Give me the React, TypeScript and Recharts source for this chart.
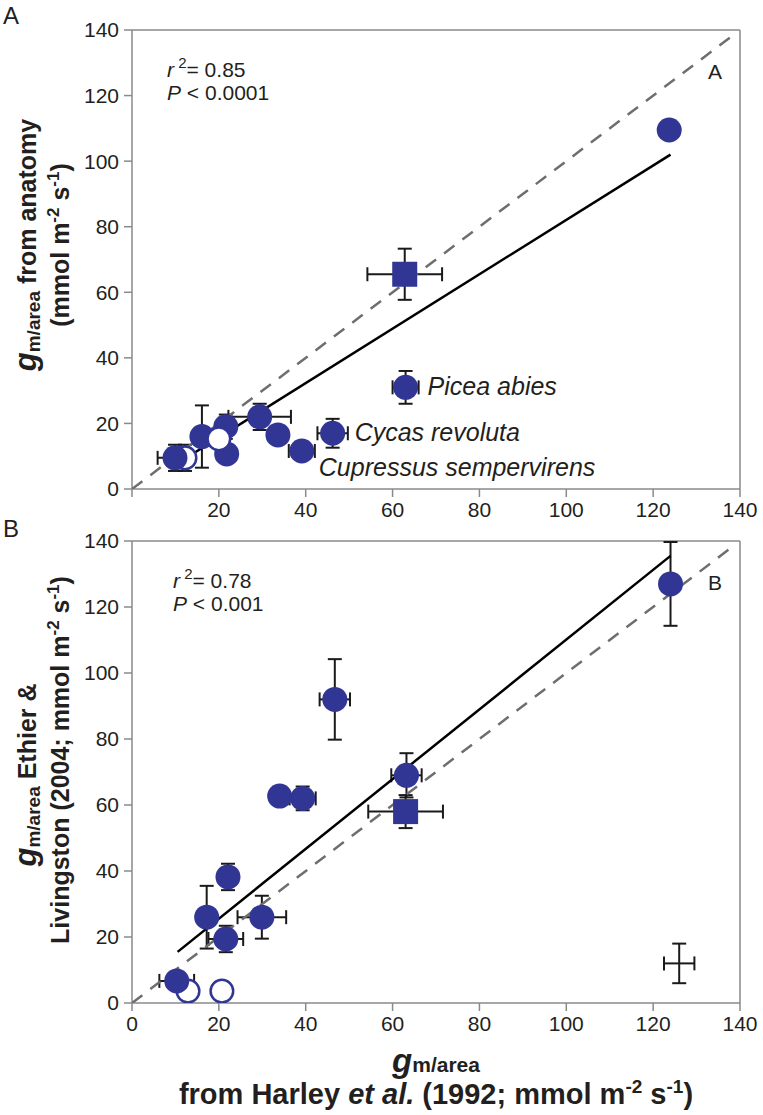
import { ScatterChart, Scatter, XAxis, YAxis, ErrorBar, ReferenceLine, Label } from 'recharts';

const FONT = '"Liberation Sans", Arial, sans-serif';
const BLUE = '#313694';
const INK = '#231f20';
const AXIS = '#8a8a8a';
const TICKS = [0, 20, 40, 60, 80, 100, 120, 140];

// panel A: anatomy vs Harley
const aKind = ['open', 'dot', 'dot', 'dot', 'dot', 'dot', 'dot', 'dot', 'dot', 'dot', 'dot', 'open', 'square'];
const aX = [12.2, 9.9, 16.1, 21.6, 21.8, 29.4, 33.6, 39.1, 46.2, 63.0, 123.7, 20.0, 62.8];
const aY = [9.5, 9.5, 16.0, 19.0, 10.7, 22.0, 16.5, 11.6, 17.0, 31.0, 109.5, 15.3, 65.5];
const aXErr = [0, 4, 0, 2, 0, 7.2, 0, 3, 3.5, 3, 0, 0, 8.6];
const aYErr = [4, 4, 9.5, 3.7, 0, 4, 0, 0, 4.4, 5, 0, 0, 7.8];
const aName = ['', '', '', '', '', '', '', 'Cupressus sempervirens', 'Cycas revoluta', 'Picea abies', '', '', ''];
const aFitX = [9.5, 124];
const aFitY = [7, 102];

// panel B: Ethier & Livingston vs Harley
const bKind = ['open', 'open', 'dot', 'dot', 'dot', 'dot', 'dot', 'dot', 'dot', 'dot', 'dot', 'dot', 'square', 'none'];
const bX = [12.9, 20.7, 10.3, 17.2, 21.6, 22.1, 29.9, 34.0, 39.3, 46.7, 63.2, 124.0, 63.0, 126.0];
const bY = [3.6, 3.6, 6.7, 26.0, 19.4, 38.2, 26.0, 62.7, 62.0, 92.0, 69.0, 127.0, 58.0, 12.0];
const bXErr = [0, 0, 4, 0, 4, 0, 5.6, 0, 3, 3.5, 3.5, 0, 8.6, 3.5];
const bYErr = [0, 0, 0, 9.5, 4, 4, 6.5, 0, 3.6, 12.2, 6.7, 12.7, 5, 6];
const bFitX = [10.5, 124];
const bFitY = [15.5, 135.5];

const oneToOne = [0, 138];

const labelOffset: Record<string, [number, number]> = {
  'Picea abies': [22, 0],
  'Cycas revoluta': [22, 0],
  'Cupressus sempervirens': [17, 17],
};

const rows = (kind: string[], xs: number[], ys: number[], ex: number[], ey: number[], names?: string[]) =>
  xs.map((x, i) => ({ x, y: ys[i], ex: ex[i], ey: ey[i], kind: kind[i], name: names ? names[i] : '' }));

const line = (xs: number[], ys: number[]) => xs.map((x, i) => ({ x, y: ys[i] }));

function Marker(props: any) {
  const { cx, cy, payload } = props;
  if (cx == null || cy == null) return <g />;
  let mark = null;
  if (payload.kind === 'dot') mark = <circle cx={cx} cy={cy} r={12.5} fill={BLUE} />;
  else if (payload.kind === 'open')
    mark = <circle cx={cx} cy={cy} r={11.3} fill="#fff" stroke={BLUE} strokeWidth={2.5} />;
  else if (payload.kind === 'square')
    mark = <rect x={cx - 12.5} y={cy - 12.5} width={25} height={25} fill={BLUE} />;
  const off = labelOffset[payload.name];
  return (
    <g>
      {mark}
      {off && (
        <text x={cx + off[0]} y={cy + off[1]} dy={8} fontFamily={FONT} fontStyle="italic" fontSize={25} fill={INK}>
          {payload.name}
        </text>
      )}
    </g>
  );
}

const noShape = () => <g />;

function Stats({ x, y, r2, p }: { x: number; y: number; r2: string; p: string }) {
  return (
    <g>
      <text x={x} y={y} fontSize={21}>
        <tspan fontStyle="italic">r</tspan>
        <tspan fontSize={15} dy={-9}> 2</tspan>
        <tspan dy={9}>{'= ' + r2}</tspan>
      </text>
      <text x={x} y={y + 23} fontSize={21}>
        <tspan fontStyle="italic">P</tspan>
        <tspan>{' < ' + p}</tspan>
      </text>
    </g>
  );
}

function TitlesA() {
  return (
    <g fontFamily={FONT} fill={INK}>
      <text x={3} y={24} fontSize={24}>A</text>
      <text x={708} y={79} fontSize={21}>A</text>
      <Stats x={167} y={77} r2="0.85" p="0.0001" />
      <text transform="translate(36,245) rotate(-90)" textAnchor="middle" fontWeight={700} fontSize={25}>
        <tspan fontStyle="italic" fontSize={31}>g</tspan>
        <tspan fontSize={19} dy={4}>m/area</tspan>
        <tspan dy={-4}>{' from anatomy'}</tspan>
      </text>
      <text transform="translate(69,245) rotate(-90)" textAnchor="middle" fontWeight={700} fontSize={25}>
        <tspan>{'(mmol m'}</tspan>
        <tspan fontSize={17} dy={-10}>-2</tspan>
        <tspan dy={10}>{' s'}</tspan>
        <tspan fontSize={17} dy={-10}>-1</tspan>
        <tspan dy={10}>)</tspan>
      </text>
    </g>
  );
}

function TitlesB() {
  return (
    <g fontFamily={FONT} fill={INK}>
      <text x={3} y={37} fontSize={24}>B</text>
      <text x={708} y={90} fontSize={21}>B</text>
      <Stats x={173} y={88} r2="0.78" p="0.001" />
      <text transform="translate(36,275) rotate(-90)" textAnchor="middle" fontWeight={700} fontSize={25}>
        <tspan fontStyle="italic" fontSize={31}>g</tspan>
        <tspan fontSize={19} dy={4}>m/area</tspan>
        <tspan dy={-4}>{' Ethier &'}</tspan>
      </text>
      <text transform="translate(69,260) rotate(-90)" textAnchor="middle" fontWeight={700} fontSize={25}>
        <tspan>{'Livingston (2004; mmol m'}</tspan>
        <tspan fontSize={17} dy={-10}>-2</tspan>
        <tspan dy={10}>{' s'}</tspan>
        <tspan fontSize={17} dy={-10}>-1</tspan>
        <tspan dy={10}>)</tspan>
      </text>
      <text x={436} y={572} textAnchor="middle" fontWeight={700} fontSize={21}>
        <tspan fontStyle="italic" fontSize={33}>g</tspan>
        <tspan>m/area</tspan>
      </text>
      <text x={436} y={604} textAnchor="middle" fontWeight={700} fontSize={29}>
        <tspan>{'from Harley '}</tspan>
        <tspan fontStyle="italic">et al.</tspan>
        <tspan>{' (1992; mmol m'}</tspan>
        <tspan fontSize={19} dy={-11}>-2</tspan>
        <tspan dy={11}>{' s'}</tspan>
        <tspan fontSize={19} dy={-11}>-1</tspan>
        <tspan dy={11}>)</tspan>
      </text>
    </g>
  );
}

const axisProps = {
  type: 'number' as const,
  domain: [0, 140],
  ticks: TICKS,
  allowDataOverflow: true,
  tickSize: 8,
  axisLine: { stroke: AXIS, strokeWidth: 1.5 },
  tickLine: { stroke: AXIS, strokeWidth: 1.5 },
  tick: { fill: INK, fontSize: 21, fontFamily: FONT },
};

function Panel({ pts, fitX, fitY, height, top, xHeight, hideZero, titles }: any) {
  return (
    <ScatterChart width={763} height={height} margin={{ top, right: 23, bottom: 0, left: 72 }}>
      <XAxis dataKey="x" {...axisProps} height={xHeight} tickMargin={5}
        tickFormatter={(v: number) => (hideZero && v === 0 ? '' : String(v))} />
      <YAxis dataKey="y" {...axisProps} width={60} tickMargin={5}>
        <Label content={titles} />
      </YAxis>
      <ReferenceLine y={140} stroke={AXIS} strokeWidth={1.5} />
      <ReferenceLine x={140} stroke={AXIS} strokeWidth={1.5} />
      <Scatter data={line(oneToOne, oneToOne)} shape={noShape} isAnimationActive={false}
        line={{ stroke: '#6e6e6e', strokeWidth: 2.5, strokeDasharray: '13 10' }} />
      <Scatter data={line(fitX, fitY)} shape={noShape} isAnimationActive={false}
        line={{ stroke: '#000', strokeWidth: 2.5 }} />
      <Scatter data={pts} shape={Marker} isAnimationActive={false}>
        <ErrorBar dataKey="ex" direction="x" width={7} stroke="#1a1a1a" strokeWidth={2} isAnimationActive={false} />
        <ErrorBar dataKey="ey" direction="y" width={7} stroke="#1a1a1a" strokeWidth={2} isAnimationActive={false} />
      </Scatter>
    </ScatterChart>
  );
}

export default function App() {
  const ptsA = rows(aKind, aX, aY, aXErr, aYErr, aName);
  const ptsB = rows(bKind, bX, bY, bXErr, bYErr);
  return (
    <div style={{ position: 'absolute', left: 0, top: 0, width: 763, height: 1115, background: '#fff' }}>
      <div style={{ position: 'absolute', left: 0, top: 0 }}>
        <Panel pts={ptsA} fitX={aFitX} fitY={aFitY} height={530} top={30} xHeight={41} hideZero titles={<TitlesA />} />
      </div>
      <div style={{ position: 'absolute', left: 0, top: 500 }}>
        <Panel pts={ptsB} fitX={bFitX} fitY={bFitY} height={615} top={41} xHeight={112} titles={<TitlesB />} />
      </div>
    </div>
  );
}
